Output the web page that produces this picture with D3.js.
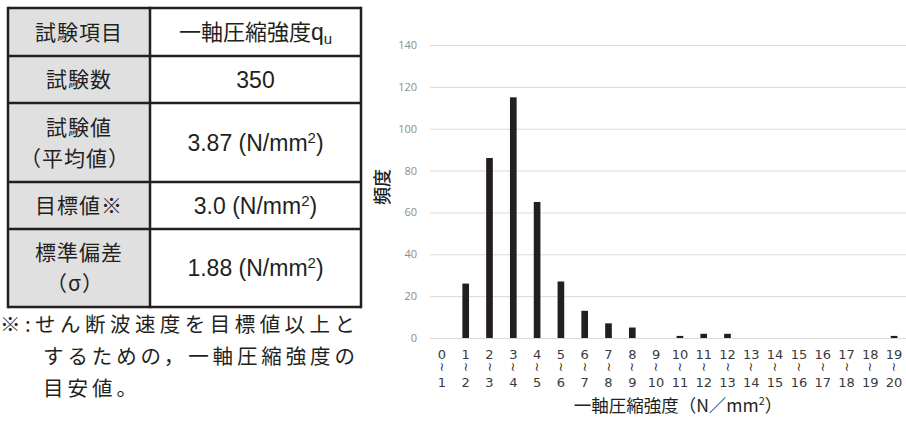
<!DOCTYPE html>
<html>
<head>
<meta charset="utf-8">
<script src="https://cdn.jsdelivr.net/npm/d3@7/dist/d3.min.js"></script>
<style>
  body { margin: 0; background: #fff; }
  svg { display: block; }
</style>
</head>
<body>
<div id="chart"></div>
<script>
// histogram data
const binStarts = d3.range(0, 20);
const counts = [0, 26, 86, 115, 65, 27, 13, 7, 5, 0, 1, 2, 2, 0, 0, 0, 0, 0, 0, 1];
const yTicks = [0, 20, 40, 60, 80, 100, 120, 140];

// table data
const tableLabels = [["試験項目"], ["試験数"], ["試験値", "（平均値）"], ["目標値※"], ["標準偏差", "（σ）"]];
const tableValues = [["一軸圧縮強度", "q", "u"], ["350"], ["3.87 (N/mm", "2", ")"], ["3.0 (N/mm", "2", ")"], ["1.88 (N/mm", "2", ")"]];
const noteLines = ["※:せん断波速度を目標値以上と", "するための，一軸圧縮強度の", "目安値。"];

const W = 906, H = 428;
const svg = d3.select('#chart').append('svg')
    .attr('width', W)
    .attr('height', H);

const cjk = '"Noto Sans CJK JP", "Noto Sans", sans-serif';
const latin = '"Liberation Sans", Arial, sans-serif';

// ---- table ----
const rowEdges = [8, 56, 103, 182, 229, 307];
const colEdges = [8, 150, 361];
const tbl = svg.append('g');

tbl.selectAll('rect.head')
    .data(tableLabels)
    .enter().append('rect')
    .attr('class', 'head')
    .attr('x', colEdges[0])
    .attr('y', (d, i) => rowEdges[i])
    .attr('width', colEdges[1] - colEdges[0])
    .attr('height', (d, i) => rowEdges[i + 1] - rowEdges[i])
    .attr('fill', '#e0e0e1');

tableLabels.forEach((lines, i) => {
    const cy = (rowEdges[i] + rowEdges[i + 1]) / 2;
    const cx = (colEdges[0] + colEdges[1]) / 2;
    lines.forEach((s, j) => {
        tbl.append('text')
            .attr('x', cx + (s.startsWith('（') ? -4 : 0))
            .attr('y', cy + (j - (lines.length - 1) / 2) * 31)
            .attr('dy', '0.36em')
            .attr('text-anchor', 'middle')
            .style('font-family', cjk)
            .style('font-size', '21px')
            .style('letter-spacing', '1px')
            .attr('fill', '#231f20')
            .text(s);
    });
});

tableValues.forEach((parts, i) => {
    const cy = (rowEdges[i] + rowEdges[i + 1]) / 2;
    const cx = (colEdges[1] + colEdges[2]) / 2;
    const t = tbl.append('text')
        .attr('x', cx)
        .attr('y', cy)
        .attr('dy', '0.36em')
        .attr('text-anchor', 'middle')
        .attr('fill', '#231f20')
        .style('font-size', '23px');
    if (i === 0) {
        t.append('tspan').style('font-family', cjk).style('font-size', '22px').text(parts[0]);
        t.append('tspan').style('font-family', latin).text(parts[1]);
        t.append('tspan').style('font-family', latin).style('font-size', '15px').attr('dy', '4').text(parts[2]);
    } else if (parts.length === 1) {
        t.append('tspan').style('font-family', latin).text(parts[0]);
    } else {
        t.append('tspan').style('font-family', latin).text(parts[0]);
        t.append('tspan').style('font-family', latin).style('font-size', '15px').attr('dy', '-8').text(parts[1]);
        t.append('tspan').style('font-family', latin).attr('dy', '8').text(parts[2]);
    }
});

// borders
rowEdges.forEach(y => {
    tbl.append('line').attr('x1', colEdges[0]).attr('x2', colEdges[2])
        .attr('y1', y).attr('y2', y)
        .attr('stroke', '#231f20').attr('stroke-width', 2.5);
});
colEdges.forEach(x => {
    tbl.append('line').attr('x1', x).attr('x2', x)
        .attr('y1', rowEdges[0] - 1.25).attr('y2', rowEdges[rowEdges.length - 1] + 1.25)
        .attr('stroke', '#231f20').attr('stroke-width', 2.5);
});

// note, first two lines justified like the source
const noteX = [0, 43, 43];
const noteLen = [355, 312, null];
svg.selectAll('text.note')
    .data(noteLines)
    .enter().append('text')
    .attr('class', 'note')
    .attr('x', (d, i) => noteX[i])
    .attr('y', (d, i) => 325 + i * 32)
    .attr('dy', '0.36em')
    .attr('textLength', (d, i) => noteLen[i])
    .attr('lengthAdjust', 'spacing')
    .style('font-family', cjk)
    .style('font-size', '20.5px')
    .style('letter-spacing', (d, i) => i === 2 ? '4px' : null)
    .attr('fill', '#231f20')
    .text(d => d);

// ---- histogram ----
const plot = {left: 430, right: 906, top: 45, bottom: 338};

const x = d3.scaleBand()
    .domain(binStarts)
    .range([plot.left, plot.right])
    .paddingInner(0.72)
    .paddingOuter(0.36);

const y = d3.scaleLinear()
    .domain([0, 140])
    .range([plot.bottom, plot.top]);

const g = svg.append('g');

g.append('g')
    .attr('transform', `translate(${plot.left},0)`)
    .call(d3.axisLeft(y).tickValues(yTicks).tickSize(-(plot.right - plot.left)).tickPadding(13))
    .call(a => a.select('.domain').remove())
    .call(a => a.selectAll('.tick line').attr('stroke', '#d9d9d9').attr('stroke-width', 1))
    .call(a => a.selectAll('.tick text')
        .attr('fill', '#8c8c8c')
        .style('font-family', '"Open Sans", sans-serif')
        .style('font-size', '11px'));

g.selectAll('rect.bar')
    .data(binStarts)
    .enter().append('rect')
    .attr('class', 'bar')
    .attr('x', d => x(d))
    .attr('width', x.bandwidth())
    .attr('y', d => y(counts[d]))
    .attr('height', d => y(0) - y(counts[d]))
    .attr('fill', '#231f20');

// x tick labels: start, vertical wave, end
const tickFont = '"DejaVu Sans", sans-serif';
const xl = g.append('g');
binStarts.forEach(b => {
    const cx = x(b) + x.bandwidth() / 2;
    xl.append('text')
        .attr('x', cx).attr('y', 354).attr('dy', '0.36em')
        .attr('text-anchor', 'middle')
        .style('font-family', tickFont)
        .style('font-size', '13px')
        .attr('fill', '#3a3a3a')
        .text(b);
    xl.append('text')
        .attr('transform', `translate(${cx},367) rotate(90)`)
        .attr('dy', '0.33em')
        .attr('text-anchor', 'middle')
        .style('font-family', tickFont)
        .style('font-size', '12px')
        .attr('fill', '#2a2a2a')
        .text('~');
    xl.append('text')
        .attr('x', cx).attr('y', 382).attr('dy', '0.36em')
        .attr('text-anchor', 'middle')
        .style('font-family', tickFont)
        .style('font-size', '13px')
        .attr('fill', '#3a3a3a')
        .text(b + 1);
});

// axis titles
const xt = svg.append('text')
    .attr('x', 678).attr('y', 406).attr('dy', '0.36em')
    .attr('text-anchor', 'middle')
    .style('font-family', cjk)
    .style('font-size', '17.5px')
    .attr('fill', '#231f20');
xt.append('tspan').text('一軸圧縮強度（N／mm');
xt.append('tspan').style('font-size', '11px').attr('dy', '-7').text('2');
xt.append('tspan').attr('dy', '7').text('）');

svg.append('text')
    .attr('transform', 'translate(383,187) rotate(-90)')
    .attr('dy', '0.36em')
    .attr('text-anchor', 'middle')
    .style('font-family', cjk)
    .style('font-size', '18px')
    .style('font-weight', 500)
    .attr('fill', '#231f20')
    .text('頻度');
</script>
</body>
</html>
